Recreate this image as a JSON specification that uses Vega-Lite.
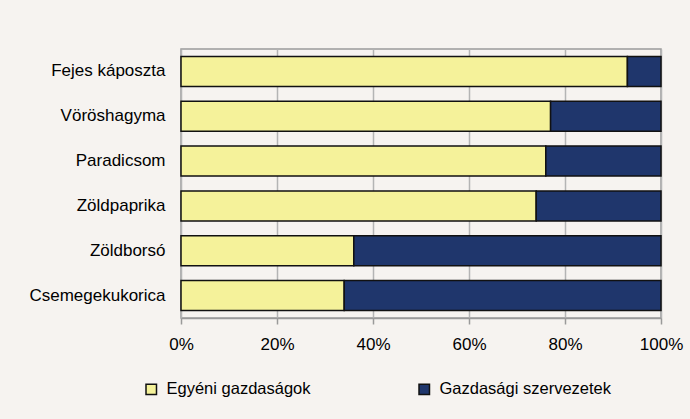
{
  "$schema": "https://vega.github.io/schema/vega-lite/v6.json",
  "width": 480,
  "height": 269,
  "autosize": {"type": "none"},
  "padding": {"left": 181, "top": 49, "right": 29, "bottom": 101},
  "background": "#f6f3f0",
  "config": {
    "font": "Liberation Sans",
    "view": {"stroke": "#9a9a9a", "strokeWidth": 1.5},
    "axis": {"labelFont": "Liberation Sans", "labelFontSize": 17, "labelColor": "#000000"},
    "legend": {"labelFont": "Liberation Sans", "labelFontSize": 16.5, "labelColor": "#000000", "labelLimit": 300}
  },
  "data": {
    "values": [
      {"crop": "Fejes káposzta", "type": "Egyéni gazdaságok", "o": 1, "v": 93},
      {"crop": "Fejes káposzta", "type": "Gazdasági szervezetek", "o": 2, "v": 7},
      {"crop": "Vöröshagyma", "type": "Egyéni gazdaságok", "o": 1, "v": 77},
      {"crop": "Vöröshagyma", "type": "Gazdasági szervezetek", "o": 2, "v": 23},
      {"crop": "Paradicsom", "type": "Egyéni gazdaságok", "o": 1, "v": 76},
      {"crop": "Paradicsom", "type": "Gazdasági szervezetek", "o": 2, "v": 24},
      {"crop": "Zöldpaprika", "type": "Egyéni gazdaságok", "o": 1, "v": 74},
      {"crop": "Zöldpaprika", "type": "Gazdasági szervezetek", "o": 2, "v": 26},
      {"crop": "Zöldborsó", "type": "Egyéni gazdaságok", "o": 1, "v": 36},
      {"crop": "Zöldborsó", "type": "Gazdasági szervezetek", "o": 2, "v": 64},
      {"crop": "Csemegekukorica", "type": "Egyéni gazdaságok", "o": 1, "v": 34},
      {"crop": "Csemegekukorica", "type": "Gazdasági szervezetek", "o": 2, "v": 66}
    ]
  },
  "mark": {"type": "bar", "stroke": "#111111", "strokeWidth": 1.5},
  "encoding": {
    "y": {
      "field": "crop",
      "type": "nominal",
      "sort": ["Fejes káposzta", "Vöröshagyma", "Paradicsom", "Zöldpaprika", "Zöldborsó", "Csemegekukorica"],
      "scale": {"paddingInner": 0.33, "paddingOuter": 0.165},
      "axis": {"title": null, "ticks": false, "domain": false, "labelPadding": 16}
    },
    "x": {
      "field": "v",
      "type": "quantitative",
      "stack": "normalize",
      "scale": {"domain": [0, 1], "nice": false},
      "axis": {
        "title": null,
        "format": "%",
        "values": [0, 0.2, 0.4, 0.6, 0.8, 1],
        "labelFlush": false,
        "grid": true,
        "gridColor": "#b4b4b4",
        "gridWidth": 1.5,
        "domainColor": "#9a9a9a",
        "domainWidth": 1.5,
        "tickColor": "#9a9a9a",
        "tickWidth": 1.5,
        "tickSize": 6,
        "labelPadding": 12
      }
    },
    "color": {
      "field": "type",
      "type": "nominal",
      "scale": {"domain": ["Egyéni gazdaságok", "Gazdasági szervezetek"], "range": ["#f5f29a", "#1f366c"]},
      "legend": {
        "title": null,
        "orient": "none",
        "legendX": -38,
        "legendY": 332,
        "direction": "horizontal",
        "columns": 2,
        "columnPadding": 105,
        "symbolType": "square",
        "symbolSize": 110,
        "symbolStrokeColor": "#111111",
        "symbolStrokeWidth": 1.5,
        "labelOffset": 7
      }
    },
    "order": {"field": "o", "type": "quantitative"}
  }
}
